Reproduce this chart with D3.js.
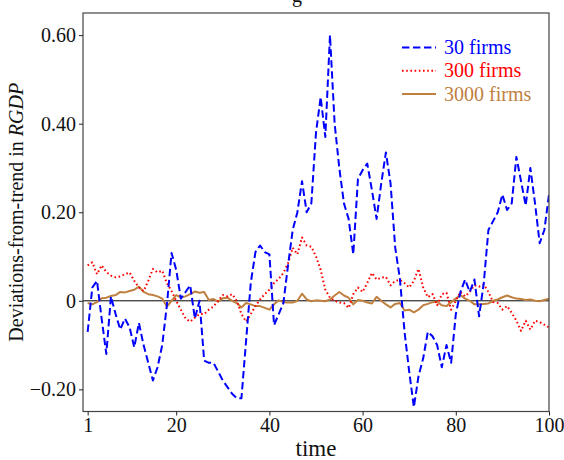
<!DOCTYPE html>
<html>
<head>
<meta charset="utf-8">
<script src="https://cdn.jsdelivr.net/npm/d3@7"></script>
<style>
  html, body { margin: 0; padding: 0; background: #fff; }
  svg { display: block; }
  svg text { font-family: "Liberation Serif", "Times New Roman", "DejaVu Serif", serif !important; fill: #111; }
</style>
</head>
<body>
<svg id="chart" width="564" height="460"></svg>
<script>
// ---------- data ----------
const xTicks = [1, 20, 40, 60, 80, 100];
const yTicks = [-0.2, 0, 0.2, 0.4, 0.6];
const seriesNames = ["30 firms", "300 firms", "3000 firms"];

const firms30 = [
  -0.07, 0.03, 0.045, -0.04, -0.12, 0.01, -0.03, -0.065, -0.04, -0.06,
  -0.105, -0.05, -0.10, -0.14, -0.18, -0.15, -0.10, -0.01, 0.108, 0.07,
  0.005, 0.02, 0.035, -0.04, 0.0, -0.135, -0.14, -0.14, -0.16, -0.18,
  -0.195, -0.21, -0.22, -0.22, -0.09, 0.04, 0.11, 0.125, 0.11, 0.105,
  -0.055, -0.03, -0.005, 0.08, 0.16, 0.2, 0.27, 0.2, 0.22, 0.38,
  0.46, 0.37, 0.60, 0.40, 0.30, 0.22, 0.185, 0.105, 0.275, 0.295,
  0.31, 0.25, 0.185, 0.265, 0.335, 0.265, 0.12, 0.05, -0.07, -0.16,
  -0.24, -0.17, -0.13, -0.07, -0.08, -0.10, -0.15, -0.10, -0.14, -0.03,
  0.02, 0.048, 0.02, 0.048, -0.035, 0.04, 0.16, 0.18, 0.20, 0.24,
  0.205, 0.22, 0.325, 0.27, 0.215, 0.30, 0.22, 0.13, 0.16, 0.24
];
const firms300 = [
  0.08, 0.087, 0.06, 0.08, 0.065, 0.057, 0.053, 0.055, 0.06, 0.064,
  0.045, 0.03, 0.022, 0.045, 0.072, 0.064, 0.068, 0.04, 0.022, 0.0,
  -0.02, -0.04, -0.047, -0.038, -0.03, -0.03, -0.02, -0.013, 0.0, 0.013,
  0.01, 0.015, 0.0, -0.03, -0.047, -0.03, -0.012, 0.003, 0.015, 0.025,
  0.04, 0.05, 0.063, 0.085, 0.12, 0.105, 0.143, 0.125, 0.122, 0.10,
  0.07, 0.025, 0.007, 0.0, -0.004, -0.005, -0.016, 0.015, 0.03, 0.02,
  0.04, 0.063, 0.048, 0.052, 0.054, 0.035, 0.045, 0.047, 0.04, 0.03,
  0.045, 0.072, 0.03, 0.008, 0.015, -0.01, 0.015, 0.018, -0.02, 0.0,
  0.02, 0.01, 0.02, 0.035, 0.032, 0.037, 0.02, -0.003, -0.005, -0.02,
  -0.012, -0.027, -0.045, -0.068, -0.045, -0.065, -0.045, -0.048, -0.054, -0.06
];
const firms3000 = [
  -0.005, -0.008, -0.003, 0.006, 0.007, 0.011, 0.013, 0.02, 0.019, 0.022,
  0.025, 0.032, 0.02, 0.015, 0.013, 0.01, 0.005, -0.013, 0.0, 0.013,
  0.008, 0.01, 0.015, 0.021, 0.018, 0.02, 0.002, 0.004, -0.002, 0.006,
  0.007, 0.0, -0.005, -0.015, -0.005, -0.008, -0.012, -0.012, -0.016, -0.02,
  -0.008, 0.001, -0.003, -0.004, -0.004, 0.0, 0.016, 0.003, -0.001, 0.001,
  0.0, -0.001, 0.003, 0.012, 0.02, 0.012, 0.007, -0.008, 0.002, 0.0,
  -0.004, -0.006, 0.009, 0.0, -0.008, -0.015, -0.007, -0.005, -0.022, -0.02,
  -0.026, -0.02, -0.01, -0.007, -0.003, -0.002, -0.01, -0.012, -0.003, 0.005,
  0.013, 0.005, 0.0, -0.008, -0.008, -0.007, -0.006, 0.0, 0.003, 0.008,
  0.012, 0.008, 0.005, 0.004, 0.002, 0.003, 0.0, -0.001, 0.002, 0.005
];

const seriesValues = [firms30, firms300, firms3000];
const seriesColors = ["#0000ff", "#ff0000", "#bf8040"];
const seriesDash = ["7.4,3.6", "1.6,2.6", null];
const seriesWidth = [2, 2, 2];

// ---------- layout ----------
const svg = d3.select("#chart");
const mLeft = 83, mRight = 549, mTop = 13, mBottom = 411.5;
const serif = "'Liberation Serif', 'Times New Roman', 'DejaVu Serif', serif";

const x = d3.scaleLinear().domain([0, 100]).range([mLeft, mRight]);
const y = d3.scaleLinear().domain([-0.25, 0.65]).range([mBottom, mTop]);

svg.append("defs").append("clipPath").attr("id", "plotclip")
  .append("rect").attr("x", mLeft).attr("y", mTop)
  .attr("width", mRight - mLeft).attr("height", mBottom - mTop);

// clipped title (only descender visible, as in the reference)
svg.append("text").attr("x", 297).attr("y", 2).attr("text-anchor", "middle")
  .attr("font-family", serif).style("font-size", "20px").text("g");

// zero line
svg.append("line")
  .attr("x1", x(0)).attr("x2", x(100))
  .attr("y1", y(0)).attr("y2", y(0))
  .attr("stroke", "#000").attr("stroke-width", 1);

// series
const line = d3.line().x((d, i) => x(i + 1)).y(d => y(d));
const g = svg.append("g").attr("clip-path", "url(#plotclip)");
[2, 1, 0].forEach(k => {
  g.append("path")
    .datum(seriesValues[k])
    .attr("d", line)
    .attr("fill", "none")
    .attr("stroke", seriesColors[k])
    .attr("stroke-width", seriesWidth[k])
    .attr("stroke-dasharray", seriesDash[k])
    .attr("stroke-linejoin", "round");
});

// frame
svg.append("rect")
  .attr("x", mLeft).attr("y", mTop)
  .attr("width", mRight - mLeft).attr("height", mBottom - mTop)
  .attr("fill", "none").attr("stroke", "#444").attr("stroke-width", 1.2);

// axes
const fmtY = v => v === 0 ? "0" : (v < 0 ? "\u2212" : "") + Math.abs(v).toFixed(2);
const yAxis = d3.axisLeft(y).tickValues(yTicks).tickFormat(fmtY).tickSize(4).tickPadding(3);
const ya = svg.append("g").attr("transform", `translate(${mLeft},0)`).call(yAxis)
  .attr("font-family", serif).attr("font-size", 20);
ya.select(".domain").remove();
ya.selectAll("text").attr("fill", "#111");
ya.selectAll("line").attr("stroke", "#222");

const xAxis = d3.axisBottom(x).tickValues(xTicks).tickFormat(d3.format("d")).tickSize(4).tickPadding(2);
const xa = svg.append("g").attr("transform", `translate(0,${mBottom})`).call(xAxis)
  .attr("font-family", serif).attr("font-size", 20);
xa.select(".domain").remove();
xa.selectAll("text").attr("fill", "#111");
xa.selectAll("line").attr("stroke", "#222");

// axis labels
svg.append("text")
  .attr("x", (mLeft + mRight) / 2).attr("y", 456)
  .attr("text-anchor", "middle").attr("font-family", serif)
  .style("font-size", "23px").text("time");

const yl = svg.append("text")
  .attr("transform", `translate(23,${(mTop + mBottom) / 2}) rotate(-90)`)
  .attr("text-anchor", "middle").attr("font-family", serif).style("font-size", "20px");
yl.append("tspan").text("Deviations-from-trend in ");
yl.append("tspan").style("font-style", "italic").text("RGDP");

// legend
const legend = svg.append("g").attr("font-family", serif);
seriesNames.forEach((name, k) => {
  const cy = 47.5 + k * 23.3;
  legend.append("line")
    .attr("x1", 402).attr("x2", 436).attr("y1", cy).attr("y2", cy)
    .attr("stroke", seriesColors[k]).attr("stroke-width", 2)
    .attr("stroke-dasharray", seriesDash[k]);
  legend.append("text")
    .attr("x", 444).attr("y", cy + 6.5)
    .style("font-size", "20px")
    .style("fill", seriesColors[k])
    .text(name);
});
</script>
</body>
</html>
